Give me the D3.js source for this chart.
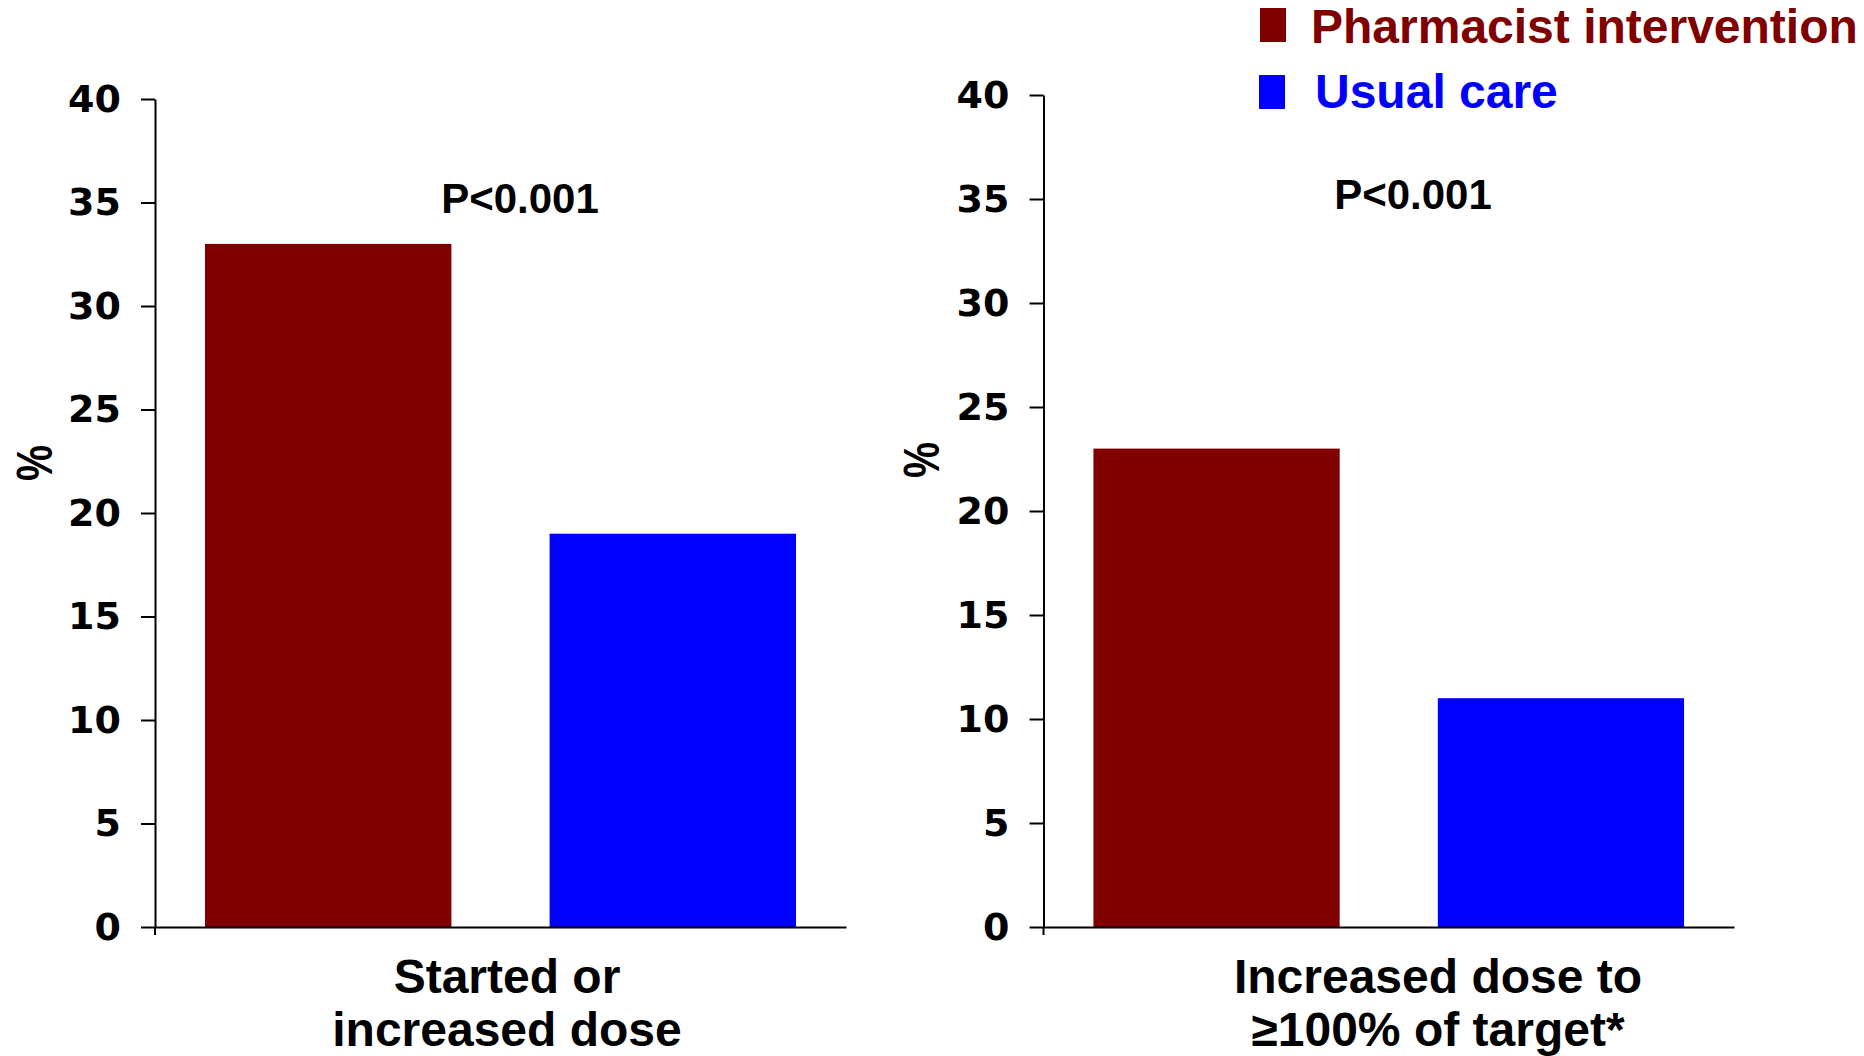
<!DOCTYPE html>
<html>
<head>
<meta charset="utf-8">
<script src="https://cdn.jsdelivr.net/npm/d3@7"></script>
<style>
  html, body { margin: 0; padding: 0; background: #ffffff; }
  svg { display: block; }
</style>
</head>
<body>
<svg id="chart" width="1864" height="1056"></svg>
<script>
// ---- data ----
const categories = ["Started or increased dose", "Increased dose to ≥100% of target*"];
const categoryLines = [["Started or", "increased dose"], ["Increased dose to", "≥100% of target*"]];
const seriesNames = ["Pharmacist intervention", "Usual care"];
const pharmacistValues = [33, 23];
const usualCareValues = [19, 11];
const pLabels = ["P<0.001", "P<0.001"];
const yTicks = [0, 5, 10, 15, 20, 25, 30, 35, 40];
const yAxisTitle = "%";

// ---- styles / layout ----
const seriesColors = ["#800000", "#0000FF"];
const panels = [
  { x0: 155, x1: 846, yTop: 99, yBottom: 927, labelX: 507, pX: 520, pctX: 52, pctY: 463 },
  { x0: 1043.5, x1: 1734, yTop: 95, yBottom: 927, labelX: 1438, pX: 1413, pctX: 939, pctY: 460 }
];
const tickFont = "'DejaVu Sans', sans-serif";
const textFont = "'Liberation Sans', Arial, sans-serif";

const svg = d3.select("#chart");

panels.forEach((p, i) => {
  const g = svg.append("g");
  const values = [pharmacistValues[i], usualCareValues[i]];

  const y = d3.scaleLinear().domain([0, 40]).range([p.yBottom, p.yTop]);
  const x = d3.scaleBand().domain(seriesNames).range([p.x0, p.x1])
    .paddingInner(0.285).paddingOuter(0.145);

  // bars
  g.selectAll("rect.bar").data(seriesNames).enter().append("rect")
    .attr("class", "bar")
    .attr("x", d => x(d))
    .attr("width", x.bandwidth())
    .attr("y", (d, j) => y(values[j]))
    .attr("height", (d, j) => y(0) - y(values[j]))
    .attr("fill", (d, j) => seriesColors[j]);

  // y axis
  const yAxis = d3.axisLeft(y).tickValues(yTicks).tickSize(14).tickSizeOuter(0).tickPadding(20);
  const ya = g.append("g").attr("transform", `translate(${p.x0},0)`).call(yAxis);
  ya.select(".domain").attr("stroke", "#000").attr("stroke-width", 2);
  ya.selectAll(".tick line").attr("stroke", "#000").attr("stroke-width", 2);
  ya.selectAll(".tick text")
    .attr("font-family", tickFont).attr("font-weight", "bold")
    .attr("font-size", 38).attr("fill", "#000");

  // x axis (baseline) with a small outer tick at the left end
  const xAxis = d3.axisBottom(x).tickSize(0).tickSizeOuter(0).tickFormat("");
  const xa = g.append("g").attr("transform", `translate(0,${y(0)})`).call(xAxis);
  xa.select(".domain").attr("stroke", "#000").attr("stroke-width", 2);
  g.append("line")
    .attr("x1", p.x0).attr("x2", p.x0)
    .attr("y1", y(0)).attr("y2", y(0) + 8)
    .attr("stroke", "#000").attr("stroke-width", 2);

  // y axis title
  g.append("text")
    .attr("transform", `translate(${p.pctX},${p.pctY}) rotate(-90)`)
    .attr("text-anchor", "middle")
    .attr("font-family", textFont).attr("font-weight", "bold")
    .attr("font-size", 50)
    .attr("textLength", 36).attr("lengthAdjust", "spacingAndGlyphs")
    .text(yAxisTitle);

  // p-value
  g.append("text")
    .attr("x", p.pX).attr("y", y(35) + 10)
    .attr("text-anchor", "middle")
    .attr("font-family", textFont).attr("font-weight", "bold")
    .attr("font-size", 42).attr("fill", "#000")
    .text(pLabels[i]);

  // category label (two lines)
  const t = g.append("text")
    .attr("text-anchor", "middle")
    .attr("font-family", textFont).attr("font-weight", "bold")
    .attr("font-size", 48).attr("fill", "#000");
  categoryLines[i].forEach((line, k) => {
    t.append("tspan").attr("x", p.labelX).attr("y", y(0) + 66 + k * 53).text(line);
  });
});

// legend
const legend = svg.append("g");
const legendRows = [{ sx: 1260, sy: 8, tx: 1311, ty: 43 }, { sx: 1259, sy: 75, tx: 1315, ty: 108 }];
seriesNames.forEach((name, j) => {
  const r = legendRows[j];
  legend.append("rect")
    .attr("x", r.sx).attr("y", r.sy).attr("width", 26).attr("height", 34)
    .attr("fill", seriesColors[j]);
  legend.append("text")
    .attr("x", r.tx).attr("y", r.ty)
    .attr("font-family", textFont).attr("font-weight", "bold")
    .attr("font-size", 48).attr("fill", seriesColors[j])
    .text(name);
});
</script>
</body>
</html>
